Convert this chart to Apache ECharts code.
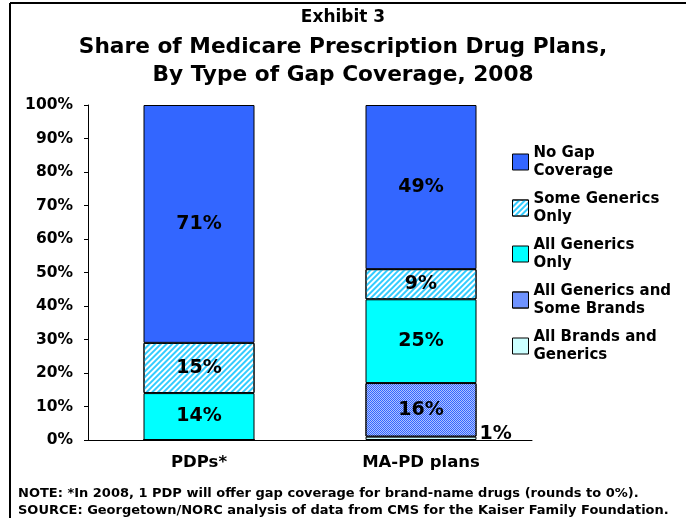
<!DOCTYPE html>
<html>
<head>
<meta charset="utf-8">
<script src="https://cdn.jsdelivr.net/npm/echarts@6/dist/echarts.min.js"></script>
<style>
  html, body { margin: 0; padding: 0; background: #fff; }
  #chart { width: 686px; height: 518px; }
</style>
</head>
<body>
<div id="chart"></div>
<script>
// Plan types on the x axis
const categories = ['PDPs*', 'MA-PD plans'];

// Share of plans by gap coverage type (percent), stacked bottom to top
const allBrandsAndGenerics = [0, 1];
const allGenericsSomeBrands = [0, 16];
const allGenericsOnly = [14, 25];
const someGenericsOnly = [15, 9];
const noGapCoverage = [71, 49];

// Y axis tick values
const yTicks = [0, 10, 20, 30, 40, 50, 60, 70, 80, 90, 100];

const seriesNames = {
  noGap: 'No Gap\nCoverage',
  someGen: 'Some Generics\nOnly',
  allGen: 'All Generics\nOnly',
  allGenBrands: 'All Generics and\nSome Brands',
  allBrands: 'All Brands and\nGenerics'
};

const FONT = '"DejaVu Sans", Verdana, sans-serif';

// Diagonal cyan hatch on white, rising to the right
const hatchDecal = {
  symbol: 'rect', symbolSize: 1, color: '#33ccff',
  dashArrayX: [1, 0], dashArrayY: [2, 2], rotation: -Math.PI / 4
};

// Fine checkerboard of translucent white over blue
const checkerDecal = {
  symbol: 'rect', symbolSize: 1, color: 'rgba(255,255,255,0.6)',
  dashArrayX: [[1, 1], [0, 1, 1, 0]], dashArrayY: [1, 0]
};

const labelStyle = {
  show: true,
  position: 'inside',
  color: '#000',
  fontFamily: FONT,
  fontWeight: 'bold',
  fontSize: 19,
  formatter: p => p.value > 0 ? p.value + '%' : ''
};

function bar(name, data, color, decal, label) {
  const itemStyle = { color: color, borderColor: '#000', borderWidth: 1 };
  if (decal) itemStyle.decal = decal;
  return {
    name: name,
    type: 'bar',
    stack: 'total',
    barWidth: '50%',
    data: data,
    itemStyle: itemStyle,
    label: label || labelStyle
  };
}

function titleText(text, y, size) {
  return {
    type: 'text', x: 343, y: y,
    style: {
      text: text, textAlign: 'center', textVerticalAlign: 'middle',
      font: 'bold ' + size + 'px ' + FONT, fill: '#000'
    }
  };
}

const chart = echarts.init(document.getElementById('chart'), null, { renderer: 'canvas' });

chart.setOption({
  animation: false,
  backgroundColor: '#fff',
  aria: { enabled: false },
  title: {
    text: 'NOTE: *In 2008, 1 PDP will offer gap coverage for brand-name drugs (rounds to 0%).\nSOURCE: Georgetown/NORC analysis of data from CMS for the Kaiser Family Foundation.',
    left: 13, top: 480,
    textStyle: { fontFamily: FONT, fontWeight: 'bold', fontSize: 13, lineHeight: 17, color: '#000' }
  },
  graphic: [
    { type: 'line', shape: { x1: 10, y1: 3, x2: 10, y2: 518 }, style: { stroke: '#000', lineWidth: 2 } },
    { type: 'line', shape: { x1: 10, y1: 3, x2: 686, y2: 3 }, style: { stroke: '#000', lineWidth: 2 } },
    titleText('Exhibit 3', 18, 17),
    titleText('Share of Medicare Prescription Drug Plans,', 47, 21.7),
    titleText('By Type of Gap Coverage, 2008', 75, 21.7)
  ],
  legend: {
    orient: 'vertical',
    left: 507, top: 139,
    icon: 'rect',
    itemWidth: 16, itemHeight: 16,
    itemGap: 10,
    data: [seriesNames.noGap, seriesNames.someGen, seriesNames.allGen, seriesNames.allGenBrands, seriesNames.allBrands],
    textStyle: { fontFamily: FONT, fontWeight: 'bold', fontSize: 15, lineHeight: 18, color: '#000' },
    itemStyle: { borderColor: '#000', borderWidth: 1 }
  },
  grid: { left: 88, right: 154, top: 105, bottom: 78, containLabel: false },
  xAxis: {
    type: 'category',
    data: categories,
    axisLine: { lineStyle: { color: '#000', width: 1 } },
    axisTick: { show: false },
    axisLabel: { color: '#000', fontFamily: FONT, fontWeight: 'bold', fontSize: 16.5, margin: 14 }
  },
  yAxis: {
    type: 'value',
    min: yTicks[0], max: yTicks[yTicks.length - 1], interval: 10,
    axisLine: { show: true, lineStyle: { color: '#000', width: 1 } },
    axisTick: { show: true, length: 4, lineStyle: { color: '#000' } },
    splitLine: { show: false },
    axisLabel: {
      color: '#000', fontFamily: FONT, fontWeight: 'bold', fontSize: 15.5, margin: 15,
      formatter: v => v + '%'
    }
  },
  series: [
    bar(seriesNames.allBrands, allBrandsAndGenerics, '#ccffff', null, {
      show: true, position: 'right', distance: 3, offset: [0, -4], color: '#000',
      fontFamily: FONT, fontWeight: 'bold', fontSize: 19,
      formatter: p => p.value > 0 ? p.value + '%' : ''
    }),
    bar(seriesNames.allGenBrands, allGenericsSomeBrands, '#3366ff', checkerDecal),
    bar(seriesNames.allGen, allGenericsOnly, '#00ffff'),
    bar(seriesNames.someGen, someGenericsOnly, '#ffffff', hatchDecal),
    bar(seriesNames.noGap, noGapCoverage, '#3366ff')
  ]
});
</script>
</body>
</html>
